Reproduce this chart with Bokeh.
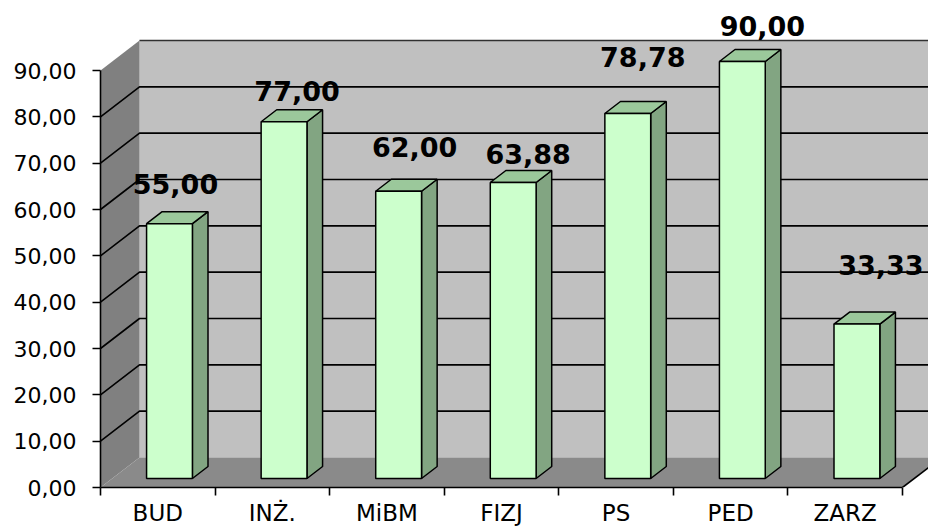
from bokeh.plotting import figure
from bokeh.models import Range1d, LinearAxis, FixedTicker, ColumnDataSource
from bokeh.core.properties import value
from bokeh.embed import file_html
from bokeh.resources import INLINE

# ---------------- data ----------------
categories = ["BUD", "INŻ.", "MiBM", "FIZJ", "PS", "PED", "ZARZ"]
values = [55.00, 77.00, 62.00, 63.88, 78.78, 90.00, 33.33]
value_labels = ["55,00", "77,00", "62,00", "63,88", "78,78", "90,00", "33,33"]
y_ticks = [0, 10, 20, 30, 40, 50, 60, 70, 80, 90]
y_tick_labels = ["0,00", "10,00", "20,00", "30,00", "40,00", "50,00",
                 "60,00", "70,00", "80,00", "90,00"]

# ---------------- layout ----------------
W, H = 928, 529
LEFT, BOTTOM = 100, 42
PX_CAT = 802.0 / 7          # pixels per category
PX_VAL = 417.0 / 90         # pixels per value unit
FRAME_W, FRAME_H = W - LEFT, H - BOTTOM
X0 = -0.5
X_END = X0 + FRAME_W / PX_CAT
Y_END = FRAME_H / PX_VAL
DX = 39.0 / PX_CAT          # 3-D depth, x
DY = 30.0 / PX_VAL          # 3-D depth, y
F0, F1 = 0.3, 0.7           # bar depth span (fraction of floor depth)
HALF = 0.2                  # half bar width (categories)
label_dx_px = [6, 13, 16, 15, 15, 20, 24]
label_dy_px = [40, 31, 44, 29, 56, 36, 59]

n = len(categories)
xl, xr = X0, X0 + n
ymax = y_ticks[-1]

p = figure(width=W, height=H, x_range=Range1d(X0, X_END), y_range=Range1d(0, Y_END),
           output_backend="svg", toolbar_location=None,
           x_axis_type=None, y_axis_type=None,
           min_border_left=LEFT, min_border_right=0, min_border_top=0,
           min_border_bottom=BOTTOM)
p.outline_line_color = None
p.background_fill_color = "white"
p.border_fill_color = "white"
p.xgrid.visible = False
p.ygrid.visible = False

# walls and floor
p.patch([xl + DX, xr + DX, xr + DX, xl + DX], [DY, DY, ymax + DY, ymax + DY],
        fill_color="#c0c0c0", line_color=None)
p.patch([xl, xl, xl + DX, xl + DX], [0, ymax, ymax + DY, DY],
        fill_color="#808080", line_color=None)
p.patch([xl, xl + DX, xr + DX, xr], [0, DY, DY, 0],
        fill_color="#8a8a8a", line_color=None)

# gridlines (left wall slant + back wall)
gxs, gys = [], []
for v in y_ticks[1:-1]:
    gxs.append([xl, xl + DX, xr + DX])
    gys.append([v, v + DY, v + DY])
p.multi_line(gxs, gys, line_color="black", line_width=1.6)
p.line([xl + DX, xr + DX], [ymax + DY, ymax + DY], line_color="#303030", line_width=1.6)
p.line([xr, xr + DX], [0, DY], line_color="black", line_width=1.6)

# bars
fx, fy, sx, sy, tx, ty = [], [], [], [], [], []
ddx, ddy = (F1 - F0) * DX, (F1 - F0) * DY
for i, v in enumerate(values):
    left = i - HALF + F0 * DX
    right = i + HALF + F0 * DX
    bot = F0 * DY
    top = v + F0 * DY
    fx.append([left, right, right, left]); fy.append([bot, bot, top, top])
    sx.append([right, right + ddx, right + ddx, right]); sy.append([bot, bot + ddy, top + ddy, top])
    tx.append([left, right, right + ddx, left + ddx]); ty.append([top, top, top + ddy, top + ddy])
p.patches(sx, sy, fill_color="#82a582", line_color="black", line_width=1.5)
p.patches(tx, ty, fill_color="#9bc89b", line_color="black", line_width=1.5)
p.patches(fx, fy, fill_color="#ccffcc", line_color="black", line_width=1.5)

# value labels
lsrc = ColumnDataSource(dict(
    x=[i + F0 * DX + label_dx_px[i] / PX_CAT for i in range(n)],
    y=[v + F0 * DY + label_dy_px[i] / PX_VAL for i, v in enumerate(values)],
    t=value_labels))
p.text(x="x", y="y", text="t", source=lsrc, text_font=value("DejaVu Sans"),
       text_font_style="bold", text_font_size="27px", text_color="black",
       text_align="center", text_baseline="middle")

# axes
yax = LinearAxis(ticker=FixedTicker(ticks=y_ticks), bounds=(0, ymax))
yax.major_label_overrides = {t: s for t, s in zip(y_ticks, y_tick_labels)}
yax.major_tick_out = 8
yax.major_tick_in = 0
yax.minor_tick_out = 0
yax.minor_tick_in = 0
yax.major_label_standoff = 16
yax.major_label_text_font = "DejaVu Sans"
yax.major_label_text_font_size = "22px"
yax.major_label_text_color = "black"
yax.axis_line_color = "black"
yax.axis_line_width = 1.6
yax.major_tick_line_color = "black"
yax.major_tick_line_width = 1.6
p.add_layout(yax, "left")

xax = LinearAxis(ticker=FixedTicker(ticks=list(range(n)),
                                    minor_ticks=[X0 + k for k in range(n + 1)]),
                 bounds=(xl, xr))
xax.major_label_overrides = {i: c for i, c in enumerate(categories)}
xax.major_tick_out = 0
xax.major_tick_in = 0
xax.minor_tick_out = 8
xax.minor_tick_in = 0
xax.minor_tick_line_color = "black"
xax.minor_tick_line_width = 1.6
xax.major_label_standoff = 4
xax.major_label_text_font = "DejaVu Sans"
xax.major_label_text_font_size = "23px"
xax.major_label_text_color = "black"
xax.axis_line_color = "black"
xax.axis_line_width = 1.6
p.add_layout(xax, "below")

open("out.html", "w").write(file_html(p, INLINE))
